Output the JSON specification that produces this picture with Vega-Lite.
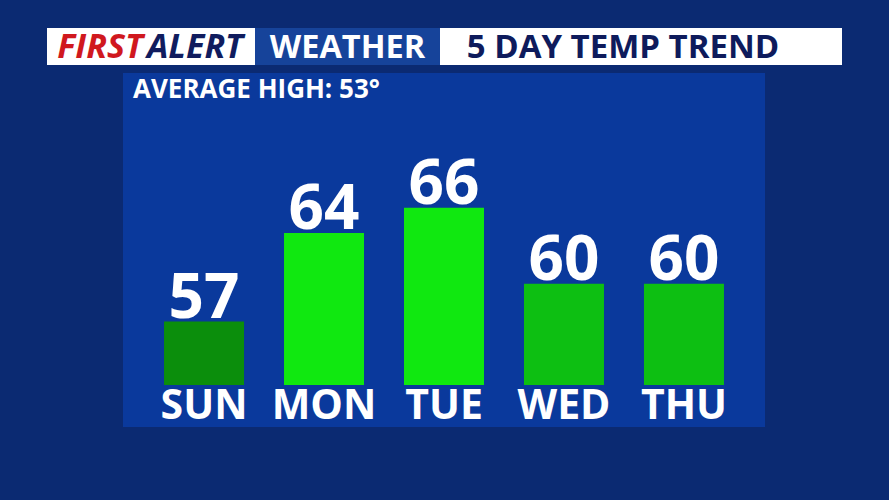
{
  "$schema": "https://vega.github.io/schema/vega-lite/v6.json",
  "background": "#0b2a72",
  "padding": {"left": 47, "top": 28, "right": 47, "bottom": 73},
  "config": {
    "view": {"stroke": null},
    "font": "Open Sans",
    "concat": {"spacing": 0}
  },
  "vconcat": [
    {
      "hconcat": [
        {
          "width": 208, "height": 37,
          "view": {"fill": "#ffffff"},
          "data": {"values": [{"w1": "FIRST", "w2": "ALERT"}]},
          "layer": [
            {"mark": {"type": "text", "font": "Open Sans", "fontWeight": "bold", "fontStyle": "italic", "fontSize": 34, "color": "#d0181e", "align": "right", "dx": -8, "dy": 1},
             "encoding": {"text": {"field": "w1"}}},
            {"mark": {"type": "text", "font": "Open Sans", "fontWeight": "bold", "fontStyle": "italic", "fontSize": 34, "color": "#101c5e", "align": "left", "dx": -4, "dy": 1},
             "encoding": {"text": {"field": "w2"}}}
          ]
        },
        {
          "width": 185, "height": 37,
          "view": {"fill": "#16439a"},
          "data": {"values": [{"t": "WEATHER"}]},
          "mark": {"type": "text", "font": "Open Sans", "fontWeight": "bold", "fontSize": 32.5, "color": "#ffffff", "dy": 1},
          "encoding": {"text": {"field": "t"}}
        },
        {
          "width": 402, "height": 37,
          "view": {"fill": "#ffffff"},
          "data": {"values": [{"t": "5 DAY TEMP TREND"}]},
          "mark": {"type": "text", "font": "Open Sans", "fontWeight": "bold", "fontSize": 33, "color": "#0e1b5c", "dx": -18, "dy": 1},
          "encoding": {"text": {"field": "t"}}
        }
      ]
    },
    {
      "spacing": 0,
      "hconcat": [
        {
          "width": 76, "height": 1,
          "data": {"values": []},
          "mark": "text",
          "encoding": {}
        },
        {
          "width": 642, "height": 354,
          "view": {"fill": "#0a399c"},
          "data": {"values": [
            {"day": "SUN", "temp": 57},
            {"day": "MON", "temp": 64},
            {"day": "TUE", "temp": 66},
            {"day": "WED", "temp": 60},
            {"day": "THU", "temp": 60}
          ]},
          "encoding": {
            "x": {"field": "day", "type": "nominal", "sort": null,
                  "scale": {"paddingInner": 0.3333, "paddingOuter": 0.342},
                  "axis": {"orient": "bottom", "offset": -42, "domain": false, "ticks": false, "title": null,
                           "labelFont": "Open Sans", "labelFontWeight": "bold", "labelFontSize": 41, "labelColor": "#ffffff",
                           "labelBaseline": "top", "labelPadding": 1, "labelAngle": 0}},
            "y": {"type": "quantitative", "scale": {"domain": [48.68, 76.63], "nice": false, "zero": false}, "axis": null}
          },
          "layer": [
            {
              "mark": {"type": "bar", "clip": true},
              "encoding": {
                "y": {"field": "temp", "type": "quantitative"},
                "y2": {"datum": 52},
                "color": {"field": "day", "type": "nominal", "sort": null, "legend": null,
                          "scale": {"domain": ["SUN", "MON", "TUE", "WED", "THU"], "range": ["#0b8e0c", "#10e810", "#10e810", "#0dbf12", "#0dbf12"]}}
              }
            },
            {
              "mark": {"type": "text", "baseline": "alphabetic", "dy": -4, "font": "Open Sans", "fontWeight": "bold", "fontSize": 62, "color": "#ffffff"},
              "encoding": {
                "y": {"field": "temp", "type": "quantitative"},
                "text": {"field": "temp", "type": "quantitative"}
              }
            },
            {
              "data": {"values": [{"label": "AVERAGE HIGH: 53°"}]},
              "mark": {"type": "text", "align": "left", "baseline": "top", "font": "Open Sans", "fontWeight": "bold", "fontSize": 26, "color": "#ffffff", "dx": 10, "dy": 4},
              "encoding": {
                "x": {"value": 0},
                "y": {"value": 0},
                "text": {"field": "label"}
              }
            }
          ]
        }
      ]
    }
  ],
  "spacing": 8
}
